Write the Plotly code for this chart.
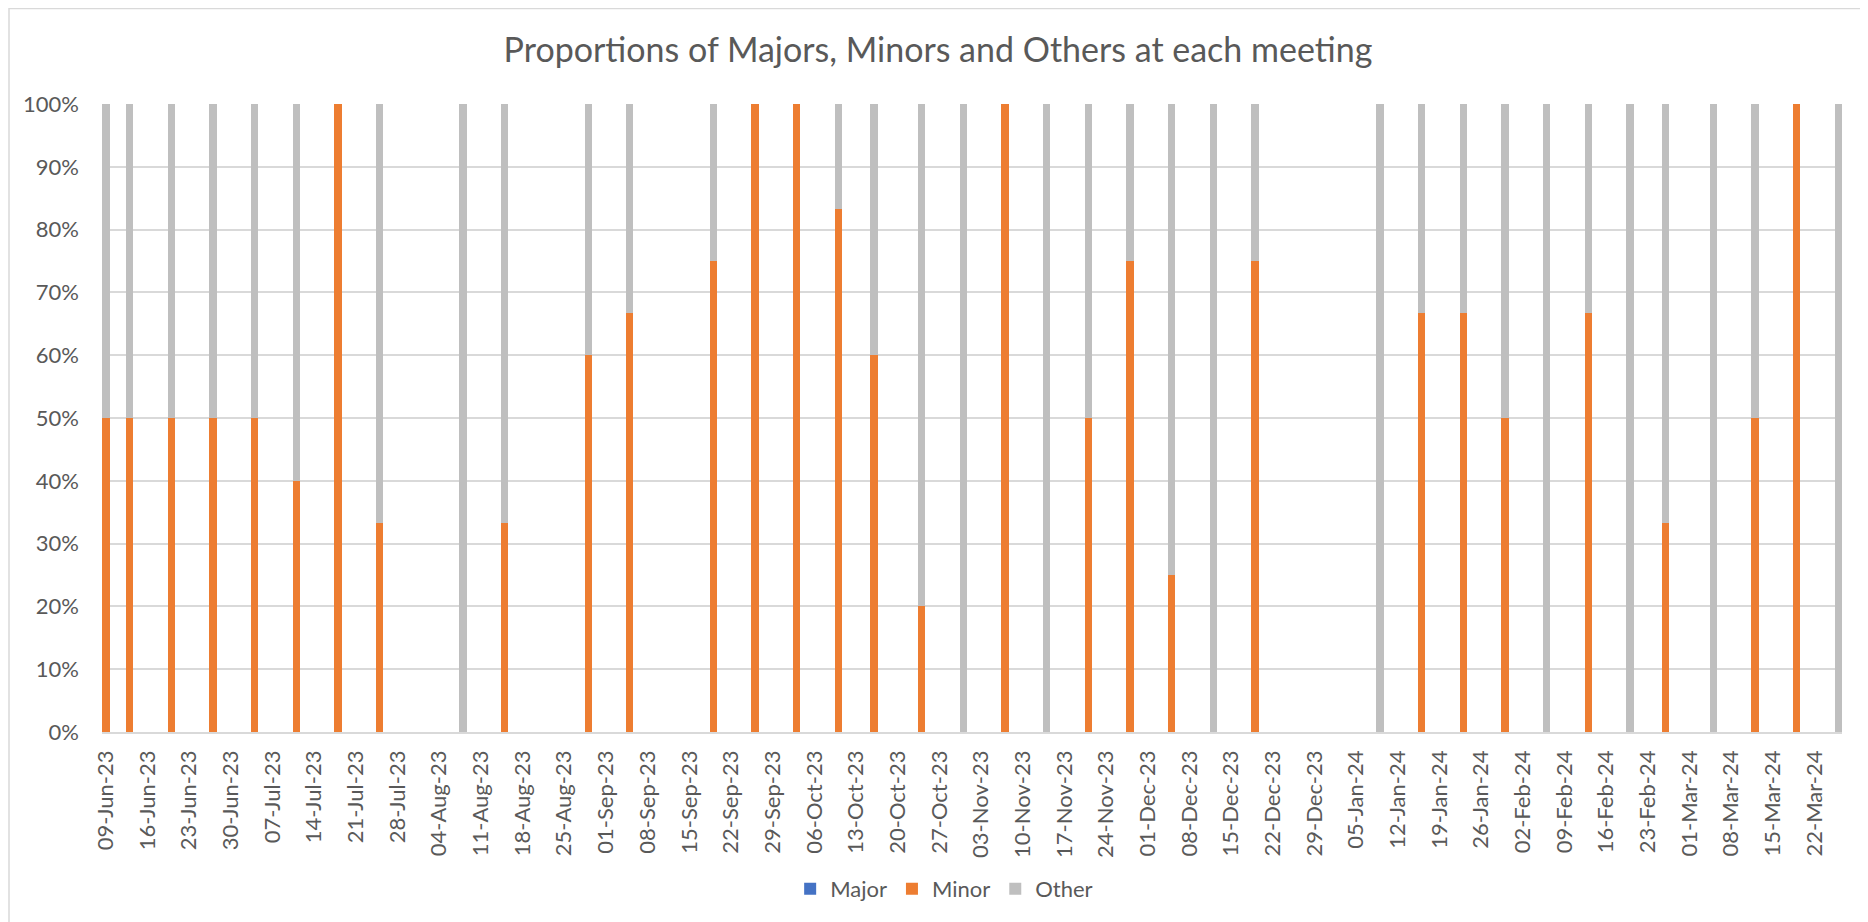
"""Share of Major / Minor / Other items at each meeting, stacked to 100%."""
import plotly.graph_objects as go

# meeting dates (date axis, so gaps between meetings stay visible)
meeting_dates = [
    "2023-06-09", "2023-06-13", "2023-06-20", "2023-06-27", "2023-07-04",
    "2023-07-11", "2023-07-18", "2023-07-25", "2023-08-08", "2023-08-15",
    "2023-08-29", "2023-09-05", "2023-09-19", "2023-09-26", "2023-10-03",
    "2023-10-10", "2023-10-16", "2023-10-24", "2023-10-31", "2023-11-07",
    "2023-11-14", "2023-11-21", "2023-11-28", "2023-12-05", "2023-12-12",
    "2023-12-19", "2024-01-09", "2024-01-16", "2024-01-23", "2024-01-30",
    "2024-02-06", "2024-02-13", "2024-02-20", "2024-02-26", "2024-03-05",
    "2024-03-12", "2024-03-19", "2024-03-26",
]

major_share = [0.0] * 38

minor_share = [
    0.5, 0.5, 0.5, 0.5, 0.5,
    0.4, 1.0, 0.333, 0.0, 0.333,
    0.6, 0.667, 0.75, 1.0, 1.0,
    0.833, 0.6, 0.2, 0.0, 1.0,
    0.0, 0.5, 0.75, 0.25, 0.0,
    0.75, 0.0, 0.667, 0.667, 0.5,
    0.0, 0.667, 0.0, 0.333, 0.0,
    0.5, 1.0, 0.0,
]

other_share = [
    0.5, 0.5, 0.5, 0.5, 0.5,
    0.6, 0.0, 0.667, 1.0, 0.667,
    0.4, 0.333, 0.25, 0.0, 0.0,
    0.167, 0.4, 0.8, 1.0, 0.0,
    1.0, 0.5, 0.25, 0.75, 1.0,
    0.25, 1.0, 0.333, 0.333, 0.5,
    1.0, 0.333, 1.0, 0.667, 1.0,
    0.5, 0.0, 1.0,
]

DAY_MS = 86400000
FONT = "Lato"
GREY_TXT = "#595959"
GRID = "#D9D9D9"

# page body has an 8px margin, so the figure is 8px smaller than the window
W, H = 1860, 914
L, R, T, B = 94, 26, 96, 190
PW, PH = W - L - R, H - T - B

fig = go.Figure()
bar_w = [1.23 * DAY_MS] * len(meeting_dates)
for name, vals, col in [
    ("Major", major_share, "#4472C4"),
    ("Minor", minor_share, "#ED7D31"),
    ("Other", other_share, "#BFBFBF"),
]:
    fig.add_trace(go.Bar(
        x=meeting_dates, y=vals, name=name, width=bar_w,
        marker=dict(color=col, line=dict(width=0)),
    ))

fig.update_layout(
    width=W,
    height=H,
    barmode="stack",
    plot_bgcolor="white",
    paper_bgcolor="white",
    font=dict(family=FONT, size=22, color=GREY_TXT),
    margin=dict(l=L, r=R, t=T, b=B),
    title=dict(
        text="Proportions of Majors, Minors and Others at each meeting",
        x=0.5, xref="container", xanchor="center",
        y=1 - 42 / H, yref="container", yanchor="middle",
        font=dict(family=FONT, size=34, color=GREY_TXT),
    ),
    legend=dict(
        orientation="h", traceorder="normal",
        x=0.484, xanchor="center", y=-0.25, yanchor="middle",
        font=dict(size=22, color=GREY_TXT),
        itemwidth=30,
    ),
    showlegend=True,
)

fig.update_xaxes(
    type="date",
    range=["2023-06-08 08:00", "2024-03-26 15:00"],
    tick0="2023-06-09", dtick=7 * DAY_MS,
    tickformat="%d-%b-%y", tickangle=-90,
    showgrid=False, showline=True, linecolor=GRID, linewidth=1.5,
    ticks="", ticklabelstandoff=8,
)
fig.update_yaxes(
    range=[0, 1], dtick=0.1, tickformat=".0%",
    showgrid=True, gridcolor=GRID, gridwidth=1.5,
    zeroline=False, showline=False, ticks="", ticklabelstandoff=22,
)

# thin chart frame (left/top edges are what is visible in the screenshot)
fig.add_shape(
    type="rect", xref="paper", yref="paper",
    x0=(1 - L) / PW, x1=1.03,
    y0=-0.35, y1=(T - 0.5) / PH + 1,
    line=dict(color=GRID, width=1.5), fillcolor="rgba(0,0,0,0)", layer="below",
)

fig.write_html("out.html")
